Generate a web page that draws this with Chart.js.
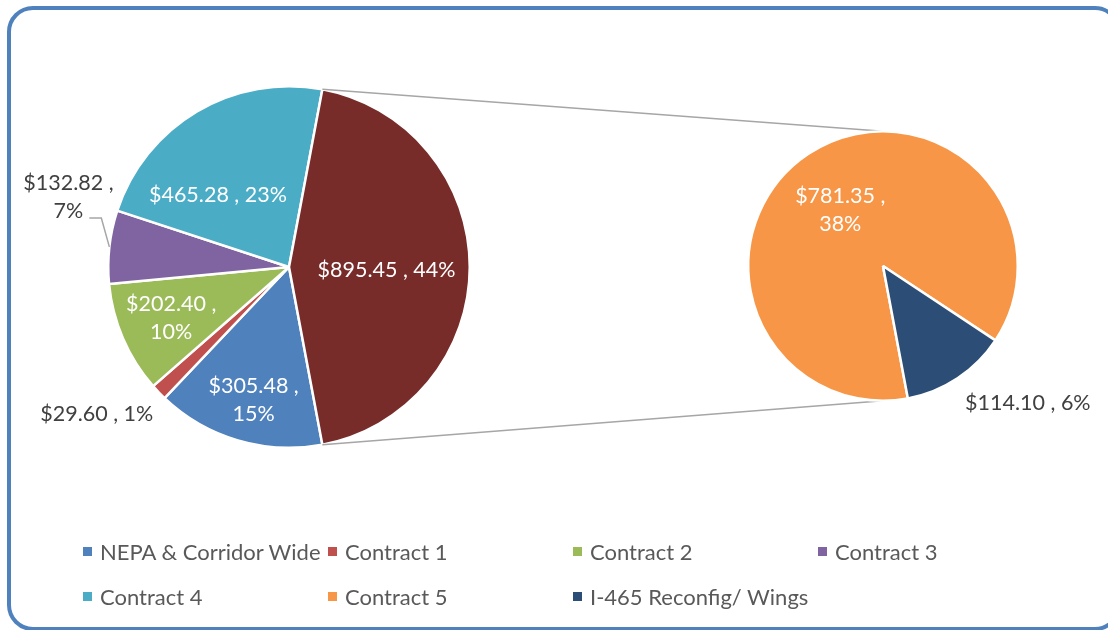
<!DOCTYPE html>
<html>
<head>
<meta charset="utf-8">
<script src="https://cdn.jsdelivr.net/npm/chart.js@4.4.1/dist/chart.umd.min.js"></script>
<style>
  body { margin: 0; background: #fff; width: 1108px; height: 630px; overflow: hidden; position: relative; font-family: Lato, sans-serif; }
  .frame { position: absolute; left: 7px; top: 6px; width: 1114px; height: 625px; border: 4px solid #4f81bd; border-radius: 26px; box-sizing: border-box; }
  canvas { position: absolute; left: 0; top: 0; }
  #legend { position: absolute; left: 83px; top: 537px; display: grid; grid-template-columns: repeat(4, 245px); grid-auto-rows: 45px; }
  #legend .item { display: flex; align-items: center; height: 28px; font-size: 22px; color: #595959; white-space: nowrap; }
  #legend .box { width: 9px; height: 9px; margin-right: 8px; flex: none; }
</style>
</head>
<body>
<div class="frame"></div>
<canvas id="mainPie" width="1108" height="630"></canvas>
<canvas id="subPie" width="1108" height="630"></canvas>
<div id="legend"></div>
<script>
// Main pie: the last slice ("Other") is split out into the second pie
const mainLabels = ['NEPA & Corridor Wide', 'Contract 1', 'Contract 2', 'Contract 3', 'Contract 4', 'Other'];
const mainValues = [305.48, 29.60, 202.40, 132.82, 465.28, 895.45];
const mainColors = ['#4f81bd', '#c0504d', '#9bbb59', '#8064a2', '#4bacc6', '#772c2a'];

const subLabels = ['Contract 5', 'I-465 Reconfig/ Wings'];
const subValues = [781.35, 114.10];
const subColors = ['#f79646', '#2c4d75'];

const grandTotal = mainValues.reduce((s, v) => s + v, 0);

// label placement: f = fraction of radius from centre, da = angle nudge (deg)
const mainPlace = [
  { f: 0.76, da: -1.5, wrap: true, inside: true },
  { f: 1.34, da: 6.4, wrap: false, inside: false },
  { f: 0.71, da: 0, wrap: true, inside: true },
  { f: 1.28, da: 11.2, wrap: true, inside: false, leader: true },
  { f: 0.56, da: -14, wrap: false, inside: true },
  { f: 0.54, da: 1.8, wrap: false, inside: true }
];
const subPlace = [
  { f: 0.52, da: -4, wrap: true, inside: true },
  { f: 1.48, da: -13, wrap: false, inside: false }
];

// keep the split-out slice centred on the right, like the Excel pie-of-pie
const otherAngle = 360 * mainValues[mainValues.length - 1] / grandTotal;
const startRotation = 90 + otherAngle / 2;

const sliceLabels = {
  id: 'sliceLabels',
  afterDatasetsDraw(chart, args, opts) {
    const ctx = chart.ctx;
    const meta = chart.getDatasetMeta(0);
    const data = chart.data.datasets[0].data;
    ctx.save();
    ctx.font = '21.5px Lato';
    ctx.textAlign = 'center';
    ctx.textBaseline = 'middle';
    meta.data.forEach((arc, i) => {
      const p = opts.place[i];
      const { x, y, startAngle, endAngle, outerRadius } = arc.getProps(['x', 'y', 'startAngle', 'endAngle', 'outerRadius'], true);
      const mid = (startAngle + endAngle) / 2;
      const a = mid + p.da * Math.PI / 180;
      const lx = x + Math.cos(a) * outerRadius * p.f;
      const ly = y + Math.sin(a) * outerRadius * p.f;
      const money = '$' + data[i].toFixed(2);
      const pct = Math.round(data[i] / grandTotal * 100) + '%';
      const lines = p.wrap ? [money + ' ,', pct] : [money + ' , ' + pct];
      const lh = 28;
      ctx.fillStyle = p.inside ? '#ffffff' : '#404040';
      lines.forEach((t, k) => {
        ctx.fillText(t, lx, ly + (k - (lines.length - 1) / 2) * lh);
      });
      if (p.leader) {
        const last = lines[lines.length - 1];
        const w = ctx.measureText(last).width;
        const sx = lx + w / 2 + 6;
        const sy = ly + lh / 2 + 7;
        ctx.strokeStyle = '#a6a6a6';
        ctx.lineWidth = 1.5;
        ctx.beginPath();
        ctx.moveTo(sx, sy);
        ctx.lineTo(sx + 12, sy);
        ctx.lineTo(x + Math.cos(mid) * outerRadius, y + Math.sin(mid) * outerRadius);
        ctx.stroke();
      }
    });
    ctx.restore();
  }
};

function pieOptions(pad, place) {
  return {
    responsive: false,
    animation: false,
    rotation: startRotation,
    layout: { padding: pad },
    plugins: {
      legend: { display: false },
      tooltip: { enabled: false },
      sliceLabels: { place: place }
    }
  };
}

const mainChart = new Chart(document.getElementById('mainPie'), {
  type: 'pie',
  data: {
    labels: mainLabels,
    datasets: [{
      data: mainValues,
      backgroundColor: mainColors,
      borderColor: '#ffffff',
      borderWidth: 2.5
    }]
  },
  options: pieOptions({ left: 107, right: 637, top: 85, bottom: 181 }, mainPlace),
  plugins: [sliceLabels]
});

// grey lines from the split slice to the second pie
const connectors = {
  id: 'connectors',
  beforeDatasetsDraw(chart) {
    const arc = mainChart.getDatasetMeta(0).data[mainValues.length - 1];
    const m = arc.getProps(['x', 'y', 'startAngle', 'endAngle', 'outerRadius'], true);
    const s = chart.getDatasetMeta(0).data[0].getProps(['x', 'y', 'outerRadius'], true);
    const ctx = chart.ctx;
    ctx.save();
    ctx.strokeStyle = '#a6a6a6';
    ctx.lineWidth = 1.5;
    ctx.beginPath();
    ctx.moveTo(m.x + Math.cos(m.startAngle) * m.outerRadius, m.y + Math.sin(m.startAngle) * m.outerRadius);
    ctx.lineTo(s.x, s.y - s.outerRadius);
    ctx.moveTo(m.x + Math.cos(m.endAngle) * m.outerRadius, m.y + Math.sin(m.endAngle) * m.outerRadius);
    ctx.lineTo(s.x, s.y + s.outerRadius);
    ctx.stroke();
    ctx.restore();
  }
};

new Chart(document.getElementById('subPie'), {
  type: 'pie',
  data: {
    labels: subLabels,
    datasets: [{
      data: subValues,
      backgroundColor: subColors,
      borderColor: '#ffffff',
      borderWidth: 2.5
    }]
  },
  options: pieOptions({ left: 747, right: 89, top: 130, bottom: 228 }, subPlace),
  plugins: [connectors, sliceLabels]
});

// legend: every real category (main minus "Other", then the split ones)
const legend = document.getElementById('legend');
const legendLabels = mainLabels.slice(0, -1).concat(subLabels);
const legendColors = mainColors.slice(0, -1).concat(subColors);
legendLabels.forEach((name, i) => {
  const item = document.createElement('div');
  item.className = 'item';
  item.innerHTML = '<span class="box" style="background:' + legendColors[i] + '"></span><span>' + name + '</span>';
  legend.appendChild(item);
});
</script>
</body>
</html>
